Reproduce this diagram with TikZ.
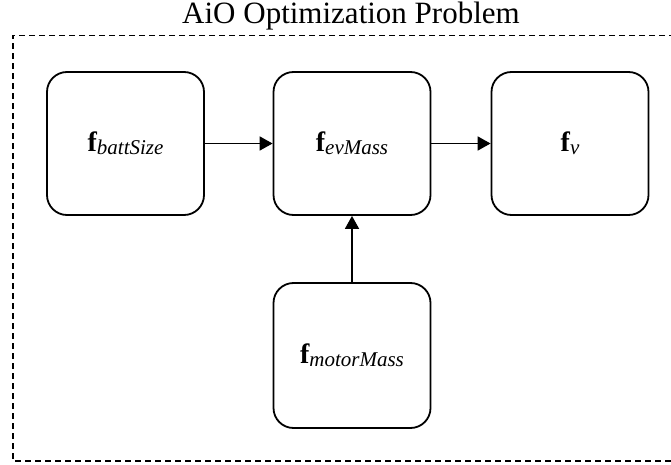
\documentclass[tikz,border=0pt]{standalone}
\usepackage{fontspec}
\setmainfont{Liberation Serif}
\usetikzlibrary{arrows.meta}
\newcommand{\flabel}[1]{{\fontsize{28}{30}\selectfont\bfseries f}\raisebox{-0.32em}{\fontsize{21}{24}\selectfont\itshape #1}}
\tikzset{
  fbox/.style={draw, line width=1.8pt, rounded corners=20pt, minimum width=157pt, minimum height=143pt, inner sep=0pt, align=center},
  conn/.style={line width=1.7pt, -{Triangle[length=13pt,width=14pt]}},
  frame/.style={line width=1.6pt, dash pattern=on 6pt off 4pt}
}
\begin{document}
\begin{tikzpicture}[x=1pt,y=-1pt]
\useasboundingbox (0,0) rectangle (671,465);
\draw[frame] (675,35.7) -- (12.7,35.7) -- (12.7,461) -- (675,461);
\node[anchor=base, inner sep=0pt, text height=20pt, font=\fontsize{31}{36}\selectfont] (title) at (351,24) {AiO Optimization Problem};
\node[fbox] (batt) at (125.5,143.5) {\flabel{battSize}};
\node[fbox] (ev) at (352,143.5) {\flabel{evMass}};
\node[fbox] (v) at (570,143.5) {\flabel{v}};
\node[fbox, minimum height=145pt] (motor) at (352,355.5) {\flabel{motorMass}};
\draw[conn] (batt) -- (ev);
\draw[conn] (ev) -- (v);
\draw[conn] (motor) -- (ev);
\end{tikzpicture}
\end{document}
